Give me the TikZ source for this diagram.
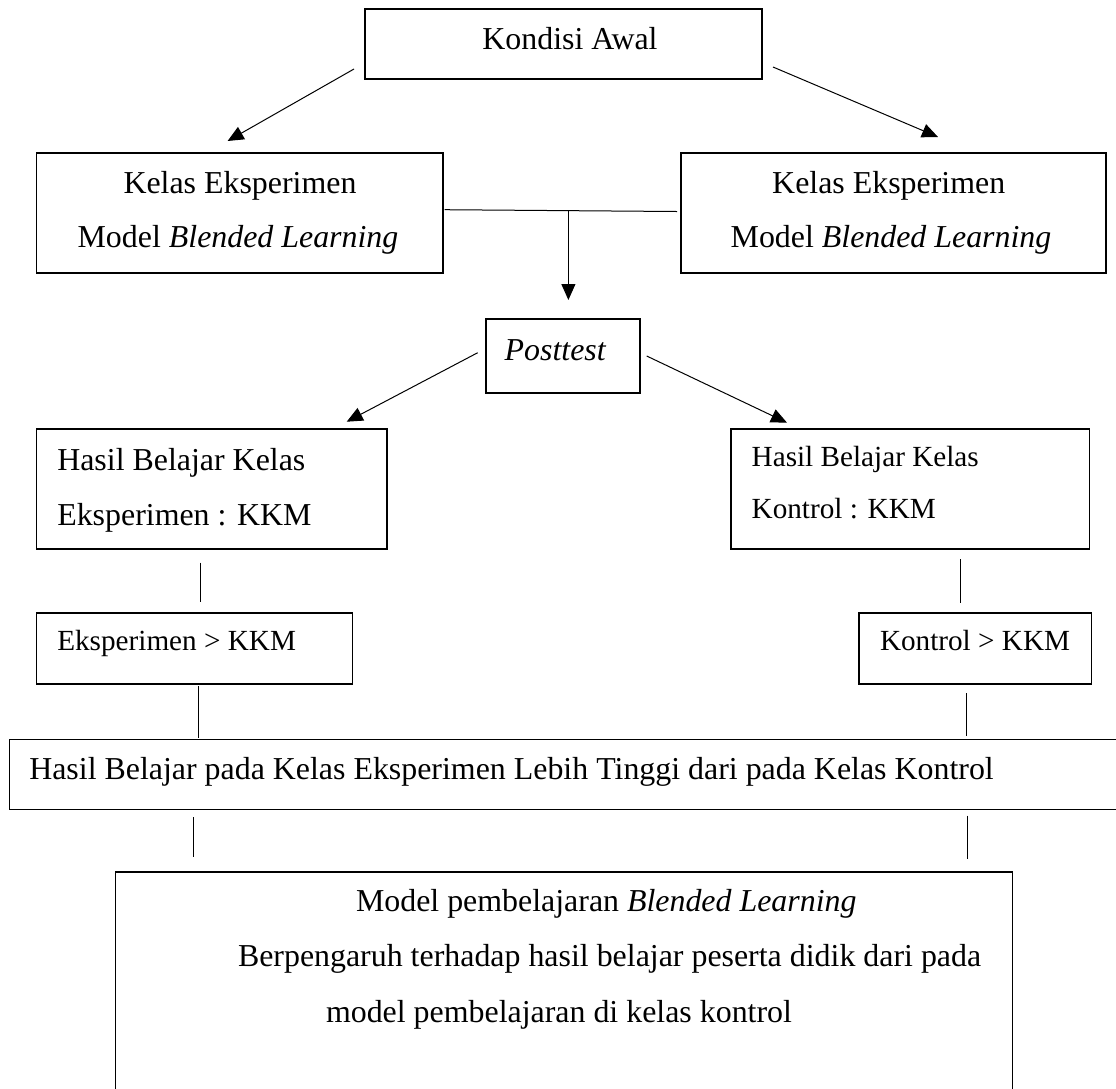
\documentclass[tikz,border=0pt]{standalone}
\usepackage{fontspec}
\setmainfont{Liberation Serif}
\usetikzlibrary{arrows.meta}
\begin{document}
\begin{tikzpicture}[x=1pt,y=-1pt,
  box/.style={draw=black, line width=1.1pt, inner sep=0pt, outer sep=0pt},
  txt/.style={inner sep=0pt, outer sep=0pt, font=\fontsize{31.9}{38}\selectfont},
  txtsm/.style={inner sep=0pt, outer sep=0pt, font=\fontsize{29.2}{35}\selectfont},
  conn/.style={draw=black, line width=1pt},
  arr/.style={conn, -{Triangle[length=16pt,width=14pt]}}]
\useasboundingbox (0,0) rectangle (1116,1088);
\clip (0,0) rectangle (1116,1088);

% boxes
\node[box, minimum width=397pt, minimum height=70pt] (kondisi) at (563.5,44) {};
\node[box, minimum width=406.5pt, minimum height=120pt] (kelasL) at (239.75,213) {};
\node[box, minimum width=425pt, minimum height=120pt] (kelasR) at (893.5,213) {};
\node[box, minimum width=154pt, minimum height=74pt] (post) at (563,356) {};
\node[box, minimum width=350.5pt, minimum height=120pt] (hasilL) at (211.75,489) {};
\node[box, minimum width=358.5pt, minimum height=120pt] (hasilR) at (910.25,489) {};
\node[box, minimum width=316pt, minimum height=71pt] (eksL) at (194.5,648.5) {};
\node[box, minimum width=232.5pt, minimum height=71pt] (konR) at (975.25,648.5) {};
\node[box, minimum width=1120.5pt, minimum height=70pt] (wide) at (569.75,774.5) {};
\node[box, minimum width=897pt, minimum height=228pt] (bottom) at (564,986) {};

% texts
\node[txt, anchor=base] (tKondisi) at (570,49) {Kondisi Awal};
\node[txt, anchor=base] (tKL1) at (240,193) {Kelas Eksperimen};
\node[txt, anchor=base] (tKL2) at (238,247) {Model \textit{Blended Learning}};
\node[txt, anchor=base] (tKR1) at (888.7,193) {Kelas Eksperimen};
\node[txt, anchor=base] (tKR2) at (891,247) {Model \textit{Blended Learning}};
\node[txt, anchor=base] (tPost) at (555.5,360) {\textit{Posttest}};
\node[txt, anchor=base west] (tHL1) at (57.3,470.7) {Hasil Belajar Kelas};
\node[txt, anchor=base west] (tHL2) at (57.3,525) {Eksperimen : KKM};
\node[txtsm, anchor=base west] (tHR1) at (751.7,466.7) {Hasil Belajar Kelas};
\node[txtsm, anchor=base west] (tHR2) at (751.7,518.3) {Kontrol : KKM};
\node[txtsm, anchor=base west] (tEks) at (57.3,650.7) {Eksperimen > KKM};
\node[txtsm, anchor=base west] (tKon) at (880,650.7) {Kontrol > KKM};
\node[txt, anchor=base west] (tWide) at (29.3,779.3) {Hasil Belajar pada Kelas Eksperimen Lebih Tinggi dari pada Kelas Kontrol};
\node[txt, anchor=base west] (tB1) at (356,911) {Model pembelajaran \textit{Blended Learning}};
\node[txt, anchor=base west] (tB2) at (238,966.5) {Berpengaruh terhadap hasil belajar peserta didik dari pada};
\node[txt, anchor=base west] (tB3) at (326,1022) {model pembelajaran di kelas kontrol};

% connector end points
\coordinate (a1s) at (354,69);   \coordinate (a1e) at (227.6,141);
\coordinate (a2s) at (773,67);   \coordinate (a2e) at (938,137);
\coordinate (hs) at (444.5,209.7); \coordinate (he) at (677,211.5);
\coordinate (a3s) at (568.4,210.5); \coordinate (a3e) at (568.4,300);
\coordinate (a4s) at (477.7,352.7); \coordinate (a4e) at (346.7,421.7);
\coordinate (a5s) at (646.7,356); \coordinate (a5e) at (787,422.7);
\coordinate (l1s) at (200.3,562.7); \coordinate (l1e) at (200.3,601.7);
\coordinate (l2s) at (960.7,559.3); \coordinate (l2e) at (960.7,602.7);
\coordinate (l3s) at (198.5,686);   \coordinate (l3e) at (198.5,737.7);
\coordinate (l4s) at (966.7,693.3); \coordinate (l4e) at (966.7,736);
\coordinate (l5s) at (193.5,817);   \coordinate (l5e) at (193.5,857);
\coordinate (l6s) at (967,815.5);   \coordinate (l6e) at (967,859);

% connectors
\draw[arr] (a1s) -- (a1e);
\draw[arr] (a2s) -- (a2e);
\draw[conn] (hs) -- (he);
\draw[arr] (a3s) -- (a3e);
\draw[arr] (a4s) -- (a4e);
\draw[arr] (a5s) -- (a5e);
\draw[conn] (l1s) -- (l1e);
\draw[conn] (l2s) -- (l2e);
\draw[conn] (l3s) -- (l3e);
\draw[conn] (l4s) -- (l4e);
\draw[conn] (l5s) -- (l5e);
\draw[conn] (l6s) -- (l6e);
\end{tikzpicture}
\end{document}
